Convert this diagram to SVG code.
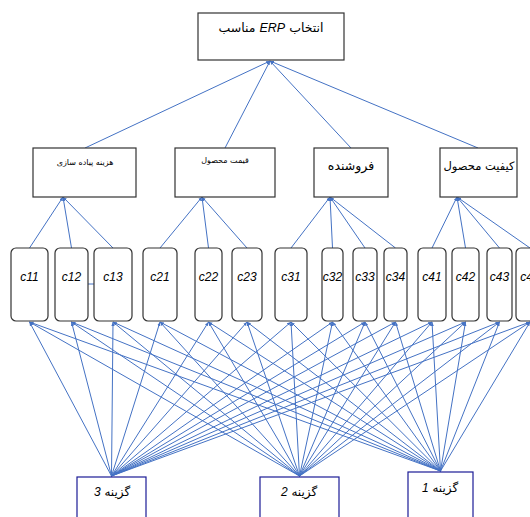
<svg xmlns="http://www.w3.org/2000/svg" width="530" height="517" viewBox="0 0 530 517">
<defs>
<style>
.box{fill:#fff;stroke:#333;stroke-width:1.2}
.leaf{fill:#fff;stroke:#333;stroke-width:1.2}
.alt{fill:#fff;stroke:#1c1c96;stroke-width:1.2}
.c{stroke:#4472C4;stroke-width:1;fill:none;marker-end:url(#ah)}
.t{font-family:"DejaVu Sans","Liberation Sans",sans-serif;fill:#000;text-anchor:middle;direction:rtl}
.lt{font-family:"Liberation Sans",Arial,sans-serif;font-style:italic;font-size:12px;fill:#000;text-anchor:middle}
</style>
<marker id="ah" viewBox="0 0 10 10" refX="10" refY="5" markerWidth="4" markerHeight="4" markerUnits="userSpaceOnUse" orient="auto">
<path d="M0,1 L10,5 L0,9 z" fill="#4472C4"/>
</marker>
</defs>
<rect width="530" height="517" fill="#fff"/>
<g id="connectors">
<line class="c" x1="85" y1="148" x2="270" y2="61"/>
<line class="c" x1="225" y1="148" x2="270" y2="61"/>
<line class="c" x1="351" y1="148" x2="270" y2="61"/>
<line class="c" x1="478" y1="148" x2="270" y2="61"/>
<line class="c" x1="29.5" y1="248" x2="63" y2="197"/>
<line class="c" x1="71.5" y1="248" x2="63" y2="197"/>
<line class="c" x1="113" y1="248" x2="63" y2="197"/>
<line class="c" x1="160" y1="248" x2="202" y2="197"/>
<line class="c" x1="208.5" y1="248" x2="202" y2="197"/>
<line class="c" x1="247" y1="248" x2="202" y2="197"/>
<line class="c" x1="291" y1="248" x2="330" y2="197"/>
<line class="c" x1="332.5" y1="248" x2="330" y2="197"/>
<line class="c" x1="365" y1="248" x2="330" y2="197"/>
<line class="c" x1="395.5" y1="248" x2="330" y2="197"/>
<line class="c" x1="432" y1="248" x2="457" y2="197"/>
<line class="c" x1="465.5" y1="248" x2="457" y2="197"/>
<line class="c" x1="499.5" y1="248" x2="457" y2="197"/>
<line class="c" x1="530" y1="248" x2="457" y2="197"/>
<line x1="88" y1="284" x2="94" y2="284" stroke="#4472C4" stroke-width="1"/>
<g id="fan">
<line class="c" x1="111.5" y1="476" x2="29.5" y2="322"/>
<line class="c" x1="111.5" y1="476" x2="71.5" y2="322"/>
<line class="c" x1="111.5" y1="476" x2="113" y2="322"/>
<line class="c" x1="111.5" y1="476" x2="160" y2="322"/>
<line class="c" x1="111.5" y1="476" x2="208.5" y2="322"/>
<line class="c" x1="111.5" y1="476" x2="247" y2="322"/>
<line class="c" x1="111.5" y1="476" x2="291" y2="322"/>
<line class="c" x1="111.5" y1="476" x2="332.5" y2="322"/>
<line class="c" x1="111.5" y1="476" x2="365" y2="322"/>
<line class="c" x1="111.5" y1="476" x2="395.5" y2="322"/>
<line class="c" x1="111.5" y1="476" x2="432" y2="322"/>
<line class="c" x1="111.5" y1="476" x2="465.5" y2="322"/>
<line class="c" x1="111.5" y1="476" x2="499.5" y2="322"/>
<line class="c" x1="111.5" y1="476" x2="530" y2="322"/>
<line class="c" x1="299.5" y1="476" x2="29.5" y2="322"/>
<line class="c" x1="299.5" y1="476" x2="71.5" y2="322"/>
<line class="c" x1="299.5" y1="476" x2="113" y2="322"/>
<line class="c" x1="299.5" y1="476" x2="160" y2="322"/>
<line class="c" x1="299.5" y1="476" x2="208.5" y2="322"/>
<line class="c" x1="299.5" y1="476" x2="247" y2="322"/>
<line class="c" x1="299.5" y1="476" x2="291" y2="322"/>
<line class="c" x1="299.5" y1="476" x2="332.5" y2="322"/>
<line class="c" x1="299.5" y1="476" x2="365" y2="322"/>
<line class="c" x1="299.5" y1="476" x2="395.5" y2="322"/>
<line class="c" x1="299.5" y1="476" x2="432" y2="322"/>
<line class="c" x1="299.5" y1="476" x2="465.5" y2="322"/>
<line class="c" x1="299.5" y1="476" x2="499.5" y2="322"/>
<line class="c" x1="299.5" y1="476" x2="530" y2="322"/>
<line class="c" x1="440.5" y1="471" x2="29.5" y2="322"/>
<line class="c" x1="440.5" y1="471" x2="71.5" y2="322"/>
<line class="c" x1="440.5" y1="471" x2="113" y2="322"/>
<line class="c" x1="440.5" y1="471" x2="160" y2="322"/>
<line class="c" x1="440.5" y1="471" x2="208.5" y2="322"/>
<line class="c" x1="440.5" y1="471" x2="247" y2="322"/>
<line class="c" x1="440.5" y1="471" x2="291" y2="322"/>
<line class="c" x1="440.5" y1="471" x2="332.5" y2="322"/>
<line class="c" x1="440.5" y1="471" x2="365" y2="322"/>
<line class="c" x1="440.5" y1="471" x2="395.5" y2="322"/>
<line class="c" x1="440.5" y1="471" x2="432" y2="322"/>
<line class="c" x1="440.5" y1="471" x2="465.5" y2="322"/>
<line class="c" x1="440.5" y1="471" x2="499.5" y2="322"/>
<line class="c" x1="440.5" y1="471" x2="530" y2="322"/>
</g>
</g>
<g id="goal"><rect class="box" x="198" y="13" width="146" height="47"/><text class="t" x="271" y="32" font-size="12.5">انتخاب <tspan font-family="Liberation Sans" font-style="italic">ERP</tspan> مناسب</text></g>
<g id="k1"><rect class="box" x="33" y="148" width="103" height="49"/><text class="t" x="85" y="165" font-size="8">هزینه پیاده سازی</text></g>
<g id="k2"><rect class="box" x="175" y="148" width="100" height="49"/><text class="t" x="225" y="163" font-size="8">قیمت محصول</text></g>
<g id="k3"><rect class="box" x="314" y="148" width="74" height="49"/><text class="t" x="351" y="170" font-size="12.5">فروشنده</text></g>
<g id="k4"><rect class="box" x="440" y="148" width="77" height="49"/><text class="t" x="479" y="170" font-size="11.5">کیفیت محصول</text></g>
<g id="c11"><rect class="leaf" x="11" y="248" width="37" height="73" rx="5"/><text class="lt" x="29.5" y="281">c11</text></g>
<g id="c12"><rect class="leaf" x="55" y="248" width="33" height="73" rx="5"/><text class="lt" x="71.5" y="281">c12</text></g>
<g id="c13"><rect class="leaf" x="94" y="248" width="38" height="73" rx="5"/><text class="lt" x="113" y="281">c13</text></g>
<g id="c21"><rect class="leaf" x="143" y="248" width="34" height="73" rx="5"/><text class="lt" x="160" y="281">c21</text></g>
<g id="c22"><rect class="leaf" x="195" y="248" width="27" height="73" rx="5"/><text class="lt" x="208.5" y="281">c22</text></g>
<g id="c23"><rect class="leaf" x="232" y="248" width="30" height="73" rx="5"/><text class="lt" x="247" y="281">c23</text></g>
<g id="c31"><rect class="leaf" x="275" y="248" width="32" height="73" rx="5"/><text class="lt" x="291" y="281">c31</text></g>
<g id="c32"><rect class="leaf" x="322" y="248" width="21" height="73" rx="5"/><text class="lt" x="332.5" y="281">c32</text></g>
<g id="c33"><rect class="leaf" x="353" y="248" width="24" height="73" rx="5"/><text class="lt" x="365" y="281">c33</text></g>
<g id="c34"><rect class="leaf" x="384" y="248" width="23" height="73" rx="5"/><text class="lt" x="395.5" y="281">c34</text></g>
<g id="c41"><rect class="leaf" x="418" y="248" width="28" height="73" rx="5"/><text class="lt" x="432" y="281">c41</text></g>
<g id="c42"><rect class="leaf" x="452" y="248" width="27" height="73" rx="5"/><text class="lt" x="465.5" y="281">c42</text></g>
<g id="c43"><rect class="leaf" x="487" y="248" width="25" height="73" rx="5"/><text class="lt" x="499.5" y="281">c43</text></g>
<g id="c44"><rect class="leaf" x="516" y="248" width="28" height="73" rx="5"/><text class="lt" x="530" y="281">c44</text></g>
<g id="alt3"><rect class="alt" x="77" y="477" width="69" height="45"/><text class="t" x="112" y="496" font-size="12">گزینه <tspan font-family="Liberation Sans" font-style="italic">3</tspan></text></g>
<g id="alt2"><rect class="alt" x="260" y="477" width="79" height="45"/><text class="t" x="299" y="496" font-size="12">گزینه <tspan font-family="Liberation Sans" font-style="italic">2</tspan></text></g>
<g id="alt1"><rect class="alt" x="408" y="472" width="65" height="50"/><text class="t" x="440" y="492" font-size="12">گزینه <tspan font-family="Liberation Sans" font-style="italic">1</tspan></text></g>
</svg>
